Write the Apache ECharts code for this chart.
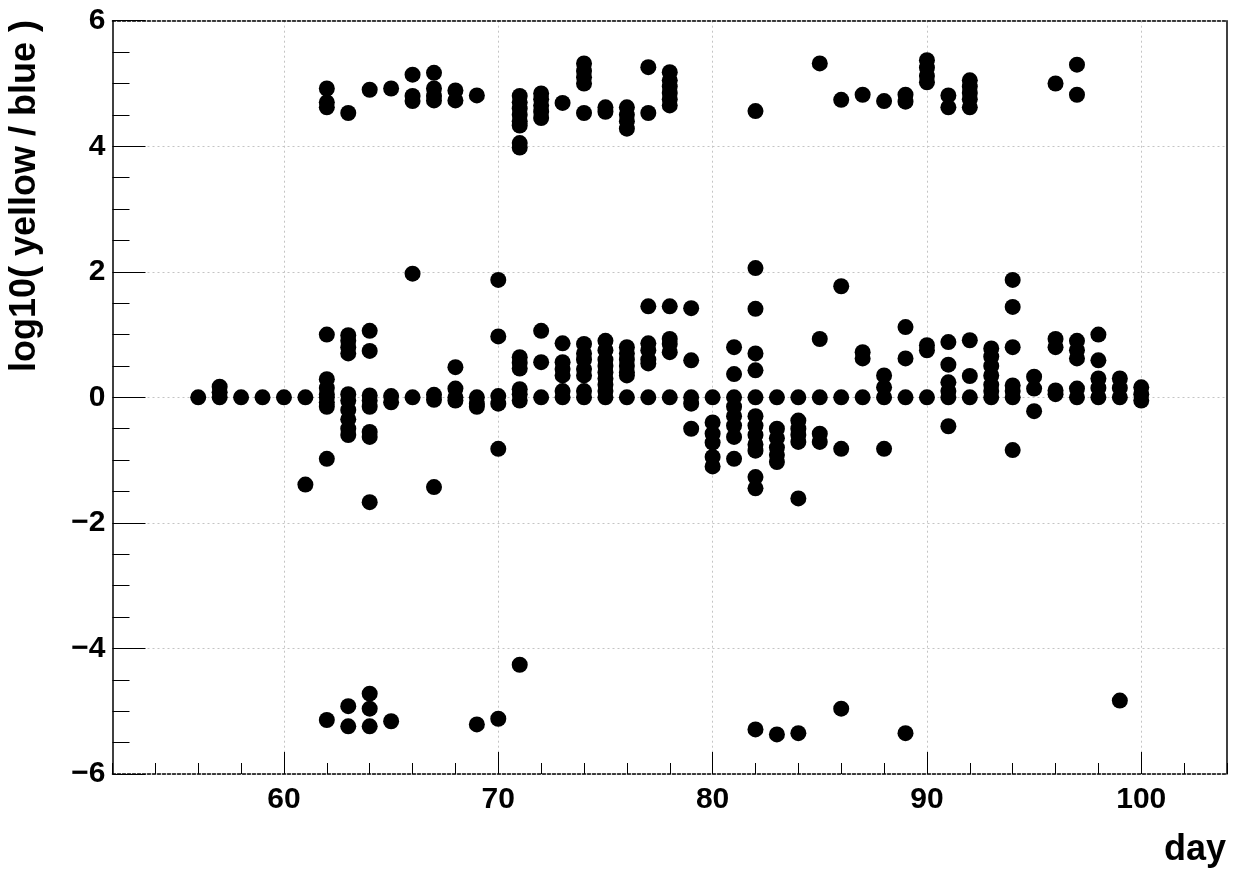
<!DOCTYPE html>
<html><head><meta charset="utf-8">
<script src="https://cdn.jsdelivr.net/npm/echarts@6/dist/echarts.min.js"></script>
<style>html,body{margin:0;padding:0;background:#fff}#c{width:1244px;height:870px}</style>
</head><body><div id="c"></div>
<script>
// Axis ticks
const xTickValues = [60, 70, 80, 90, 100];
const yTickValues = [-6, -4, -2, 0, 2, 4, 6];
const xTitle = 'day';
const yTitle = 'log10( yellow / blue )';

// [day, log10(yellow/blue)] — central band
const centralPoints = [
  [56,0],
  [57,0],[57,0.08],[57,0.17],
  [58,0],[59,0],[60,0],
  [61,0],[61,-1.39],
  [62,1.0],[62,0.29],[62,0.15],[62,0.05],[62,0],[62,-0.08],[62,-0.15],[62,-0.98],
  [63,0.99],[63,0.9],[63,0.8],[63,0.7],[63,0.05],[63,-0.05],[63,-0.2],[63,-0.35],[63,-0.5],[63,-0.6],
  [64,1.06],[64,0.74],[64,0.03],[64,-0.05],[64,-0.15],[64,-0.55],[64,-0.63],[64,-1.67],
  [65,0.02],[65,-0.08],
  [66,1.97],[66,0],
  [67,0.04],[67,-0.04],[67,-1.43],
  [68,0.48],[68,0.14],[68,0],[68,-0.05],
  [69,0],[69,-0.1],[69,-0.15],
  [70,1.87],[70,0.97],[70,0.02],[70,-0.1],[70,-0.82],
  [71,0.64],[71,0.55],[71,0.46],[71,0.13],[71,0.05],[71,-0.05],
  [72,1.06],[72,0.56],[72,0],
  [73,0.86],[73,0.56],[73,0.45],[73,0.35],[73,0.1],[73,0],
  [74,0.85],[74,0.7],[74,0.6],[74,0.45],[74,0.35],[74,0.1],[74,0],
  [75,0.9],[75,0.75],[75,0.6],[75,0.5],[75,0.4],[75,0.3],[75,0.2],[75,0.1],[75,0],
  [76,0.8],[76,0.7],[76,0.6],[76,0.5],[76,0.4],[76,0.35],[76,0],
  [77,1.45],[77,0.86],[77,0.75],[77,0.6],[77,0.54],[77,0],
  [78,1.45],[78,0.93],[78,0.85],[78,0.72],[78,0],
  [79,1.42],[79,0.59],[79,0],[79,-0.1],[79,-0.5],
  [80,0],[80,-0.4],[80,-0.58],[80,-0.72],[80,-0.95],[80,-1.1],
  [81,0.8],[81,0.37],[81,0],[81,-0.15],[81,-0.3],[81,-0.45],[81,-0.63],[81,-0.98],
  [82,2.06],[82,1.41],[82,0.7],[82,0.43],[82,0],[82,-0.3],[82,-0.45],[82,-0.6],[82,-0.75],[82,-0.85],[82,-1.27],[82,-1.45],
  [83,0],[83,-0.5],[83,-0.65],[83,-0.8],[83,-0.92],[83,-1.03],
  [84,0],[84,-0.37],[84,-0.5],[84,-0.6],[84,-0.71],[84,-1.61],
  [85,0.93],[85,0],[85,-0.58],[85,-0.71],
  [86,1.77],[86,0],[86,-0.82],
  [87,0.72],[87,0.62],[87,0],
  [88,0.35],[88,0.16],[88,0],[88,-0.82],
  [89,1.12],[89,0.62],[89,0],
  [90,0.83],[90,0.75],[90,0],
  [91,0.88],[91,0.52],[91,0.24],[91,0.1],[91,0],[91,-0.46],
  [92,0.91],[92,0.34],[92,0],
  [93,0.78],[93,0.65],[93,0.5],[93,0.35],[93,0.2],[93,0.1],[93,0],
  [94,1.87],[94,1.44],[94,0.8],[94,0.19],[94,0.1],[94,0],[94,-0.84],
  [95,0.33],[95,0.14],[95,-0.22],
  [96,0.93],[96,0.8],[96,0.11],[96,0.05],
  [97,0.9],[97,0.75],[97,0.62],[97,0.14],[97,0],
  [98,1.0],[98,0.59],[98,0.3],[98,0.15],[98,0],
  [99,0.3],[99,0.15],[99,0],
  [100,0.16],[100,0.05],[100,-0.05]
];

// upper band (~ +4 .. +5.4)
const upperPoints = [
  [62,4.92],[62,4.7],[62,4.62],
  [63,4.53],[64,4.9],[65,4.92],
  [66,5.14],[66,4.8],[66,4.72],
  [67,5.17],[67,4.92],[67,4.8],[67,4.73],
  [68,4.89],[68,4.73],
  [69,4.81],
  [71,4.8],[71,4.7],[71,4.6],[71,4.5],[71,4.4],[71,4.33],[71,4.05],[71,3.98],
  [72,4.84],[72,4.75],[72,4.65],[72,4.55],[72,4.45],
  [73,4.69],
  [74,5.32],[74,5.2],[74,5.1],[74,5.0],[74,4.53],
  [75,4.62],[75,4.55],
  [76,4.62],[76,4.5],[76,4.4],[76,4.28],
  [77,5.26],[77,4.53],
  [78,5.18],[78,5.05],[78,4.95],[78,4.85],[78,4.75],[78,4.65],
  [82,4.56],[85,5.32],[86,4.74],[87,4.82],[88,4.72],
  [89,4.82],[89,4.71],
  [90,5.37],[90,5.25],[90,5.12],[90,5.02],
  [91,4.81],[91,4.62],
  [92,5.05],[92,4.95],[92,4.85],[92,4.75],[92,4.62],
  [96,5.0],
  [97,5.3],[97,4.82]
];

// lower band (~ -4.2 .. -5.4)
const lowerPoints = [
  [62,-5.14],
  [63,-4.92],[63,-5.24],
  [64,-4.72],[64,-4.96],[64,-5.24],
  [65,-5.16],[69,-5.21],[70,-5.12],[71,-4.26],
  [82,-5.29],[83,-5.37],[84,-5.35],[86,-4.96],[89,-5.35],[99,-4.83]
];

const FONT = '"Liberation Sans", Arial, Helvetica, sans-serif';
const labelStyle = { color: '#000', fontFamily: FONT, fontWeight: 'bold', fontSize: 30 };
const gridLine = { show: true, lineStyle: { color: '#c4c4c4', width: 1, type: [2, 3] } };

const chart = echarts.init(document.getElementById('c'), null, { renderer: 'canvas' });
const option = {
  animation: false,
  backgroundColor: '#fff',
  grid: { left: 112.5, right: 17, top: 20.7, bottom: 96, containLabel: false },
  xAxis: [
    { type: 'value', min: 52, max: 104, interval: 2, position: 'bottom',
      axisLine: { show: true, onZero: false, lineStyle: { color: '#000', width: 1.5, type: [3, 2] } },
      axisTick: { show: true, inside: true, length: 11, lineStyle: { color: '#000', width: 1 } },
      axisLabel: { show: false }, splitLine: { show: false } },
    { type: 'value', min: 52, max: 104, position: 'bottom',
      axisLine: { show: false, onZero: false },
      axisTick: { show: true, inside: true, length: 22, customValues: xTickValues, lineStyle: { color: '#000', width: 1 } },
      axisLabel: Object.assign({ show: true, margin: 11, customValues: xTickValues }, labelStyle),
      splitLine: gridLine },
    { type: 'value', min: 52, max: 104, position: 'top',
      axisLine: { show: true, onZero: false, lineStyle: { color: '#000', width: 1.5, type: [3, 2] } },
      axisTick: { show: false }, axisLabel: { show: false }, splitLine: { show: false } }
  ],
  yAxis: [
    { type: 'value', min: yTickValues[0], max: yTickValues[yTickValues.length - 1], interval: 2, position: 'left',
      axisLine: { show: true, onZero: false, lineStyle: { color: '#000', width: 1.5 } },
      axisTick: { show: true, inside: true, length: 33, lineStyle: { color: '#000', width: 1 } },
      minorTick: { show: true, splitNumber: 4, length: 17, lineStyle: { color: '#000', width: 1 } },
      axisLabel: Object.assign({ show: true, margin: 7,
        formatter: v => String(v).replace('-', '\u2212') }, labelStyle),
      splitLine: gridLine },
    { type: 'value', min: -6, max: 6, position: 'right',
      axisLine: { show: true, onZero: false, lineStyle: { color: '#000', width: 1.5 } },
      axisTick: { show: false }, axisLabel: { show: false }, splitLine: { show: false } }
  ],
  series: [centralPoints, upperPoints, lowerPoints].map(d => ({
    type: 'scatter', xAxisIndex: 0, yAxisIndex: 0, data: d,
    symbol: 'circle', symbolSize: 16, itemStyle: { color: '#000', opacity: 1 }
  })),
  graphic: [
    { type: 'text', x: 25, y: 20, rotation: Math.PI / 2,
      style: { text: yTitle, fill: '#000', font: 'bold 36px ' + FONT, align: 'right', verticalAlign: 'middle' } },
    { type: 'text', x: 1226, y: 850,
      style: { text: xTitle, fill: '#000', font: 'bold 36px ' + FONT, align: 'right', verticalAlign: 'middle' } }
  ]
};
chart.setOption(option);
</script>
</body></html>
